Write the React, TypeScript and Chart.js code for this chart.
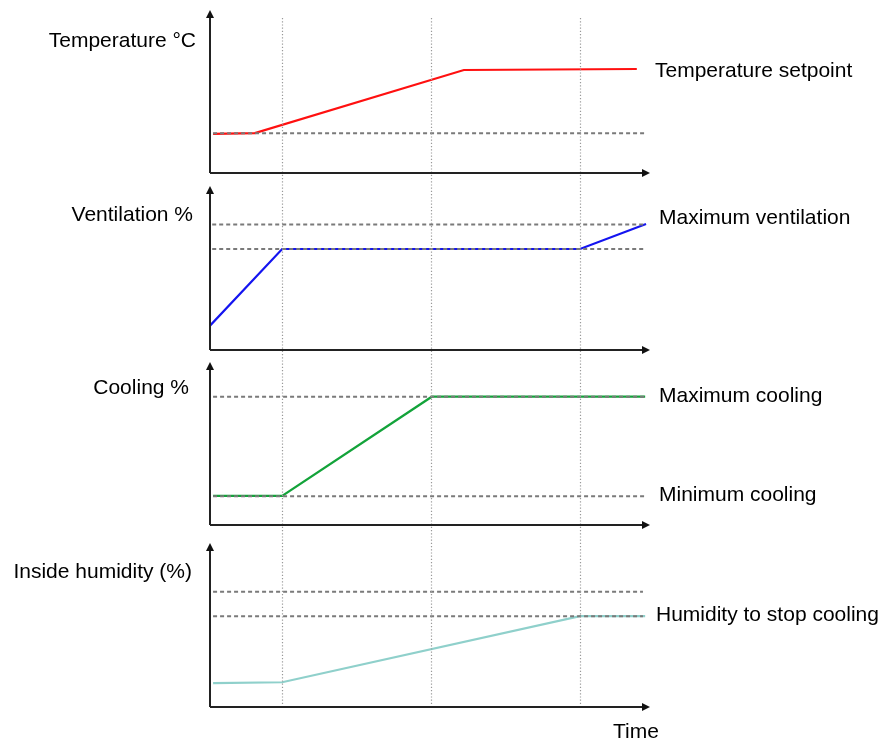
import React, { useEffect, useRef } from "react";
import { Chart, registerables } from "chart.js";

Chart.register(...registerables);

// ---- Data (time axis 0..100, each panel 0..100) ----
const phaseTimes = [16.4, 50.3, 84.1];

// Temperature panel
const tempTimes = [0.7, 10.2, 57.7, 97];
const tempSetpoint = [24, 24.5, 63.2, 63.8];
const tempRefSpan = [0.7, 99.3];
const tempRef = 24.4;

// Ventilation panel
const ventTimes = [0, 16.4, 84.1, 99.1];
const ventValues = [14.8, 61.6, 61.6, 76.8];
const ventRefSpan = [0.5, 98.9];
const ventMax = 76.6;
const ventMin = 61.6;

// Cooling panel
const coolTimes = [0.7, 16.4, 50.4, 98.9];
const coolValues = [17.9, 17.9, 78.7, 78.7];
const coolRefSpan = [0.7, 98.9];
const coolMax = 78.7;
const coolMin = 17.6;

// Humidity panel
const humTimes = [0.7, 16.4, 84.1, 98.9];
const humValues = [14.5, 15.1, 55.4, 55.4];
const humRefSpan = [0.7, 98.4];
const humUpper = 70.3;
const humStop = 55.3;

const leftLabels = ["Temperature °C", "Ventilation %", "Cooling %", "Inside humidity (%)"];
const rightLabels = [
  "Temperature setpoint",
  "Maximum ventilation",
  "Maximum cooling",
  "Minimum cooling",
  "Humidity to stop cooling",
];
const xLabel = "Time";

const panelIds = ["yTemp", "yVent", "yCool", "yHum"];
const FONT = '21px "Liberation Sans", Arial, sans-serif';

function lineSet(times: number[], values: number[], yAxisID: string, color: string) {
  return {
    data: times.map((t, i) => ({ x: t, y: values[i] })),
    xAxisID: "x",
    yAxisID,
    borderColor: color,
    borderWidth: 2.2,
    pointRadius: 0,
    tension: 0,
    fill: false,
    order: 1,
  };
}

function refSet(span: number[], value: number, yAxisID: string) {
  return {
    data: span.map((t) => ({ x: t, y: value })),
    xAxisID: "x",
    yAxisID,
    borderColor: "#7a7a7a",
    borderWidth: 2,
    borderDash: [4, 3],
    pointRadius: 0,
    tension: 0,
    fill: false,
    order: 0,
  };
}

const diagramPlugin = {
  id: "diagram",
  afterDatasetsDraw(chart: any) {
    const ctx = chart.ctx as CanvasRenderingContext2D;
    const area = chart.chartArea;
    const xs = chart.scales.x;
    const L = area.left;
    const R = area.right;

    // dotted phase lines
    ctx.save();
    ctx.strokeStyle = "#999999";
    ctx.lineWidth = 1.2;
    ctx.setLineDash([1.2, 2]);
    phaseTimes.forEach((t) => {
      const px = Math.round(xs.getPixelForValue(t)) + 0.5;
      ctx.beginPath();
      ctx.moveTo(px, area.top + 8);
      ctx.lineTo(px, area.bottom);
      ctx.stroke();
    });
    ctx.restore();

    // axes with arrows
    ctx.save();
    ctx.strokeStyle = "#222";
    ctx.fillStyle = "#111";
    ctx.lineWidth = 2;
    panelIds.forEach((id) => {
      const s = chart.scales[id];
      const top = s.top;
      const bottom = s.bottom;
      ctx.beginPath();
      ctx.moveTo(L, bottom);
      ctx.lineTo(L, top + 6);
      ctx.moveTo(L, bottom);
      ctx.lineTo(R - 6, bottom);
      ctx.stroke();
      ctx.beginPath();
      ctx.moveTo(L, top);
      ctx.lineTo(L - 4, top + 8);
      ctx.lineTo(L + 4, top + 8);
      ctx.closePath();
      ctx.fill();
      ctx.beginPath();
      ctx.moveTo(R, bottom);
      ctx.lineTo(R - 8, bottom - 4);
      ctx.lineTo(R - 8, bottom + 4);
      ctx.closePath();
      ctx.fill();
    });
    ctx.restore();

    // labels
    ctx.save();
    ctx.font = FONT;
    ctx.fillStyle = "#000";
    ctx.textBaseline = "middle";
    const leftOffsets = [
      [-14, 31],
      [-17, 29],
      [-21, 26],
      [-18, 29],
    ];
    ctx.textAlign = "right";
    leftLabels.forEach((txt, i) => {
      const s = chart.scales[panelIds[i]];
      ctx.fillText(txt, L + leftOffsets[i][0], s.top + leftOffsets[i][1]);
    });
    ctx.textAlign = "left";
    const rightAnchors: [string, number, number, number][] = [
      ["yTemp", tempSetpoint[tempSetpoint.length - 1], 5, 2],
      ["yVent", ventMax, 9, -6],
      ["yCool", coolMax, 9, -0.5],
      ["yCool", coolMin, 9, -1.5],
      ["yHum", humStop, 6, -1],
    ];
    rightLabels.forEach((txt, i) => {
      const [id, v, dx, dy] = rightAnchors[i];
      const y = chart.scales[id].getPixelForValue(v);
      ctx.fillText(txt, R + dx, y + dy);
    });
    ctx.fillText(xLabel, R - 37, area.bottom + 25);
    ctx.restore();
  },
};

export default function App() {
  const ref = useRef<HTMLCanvasElement>(null);
  useEffect(() => {
    document.body.style.margin = "0";
    const stackScale = (weight: number, stackWeight: number) => ({
      type: "linear" as const,
      min: 0,
      max: 100,
      display: false,
      position: "left" as const,
      stack: "panels",
      stackWeight,
      weight,
    });
    const chart = new Chart(ref.current!, {
      type: "line",
      data: {
        datasets: [
          refSet(tempRefSpan, tempRef, "yTemp"),
          refSet(ventRefSpan, ventMax, "yVent"),
          refSet(ventRefSpan, ventMin, "yVent"),
          refSet(coolRefSpan, coolMax, "yCool"),
          refSet(coolRefSpan, coolMin, "yCool"),
          refSet(humRefSpan, humUpper, "yHum"),
          refSet(humRefSpan, humStop, "yHum"),
          lineSet(tempTimes, tempSetpoint, "yTemp", "#ff1010"),
          lineSet(ventTimes, ventValues, "yVent", "#1414f0"),
          lineSet(coolTimes, coolValues, "yCool", "#13a33a"),
          lineSet(humTimes, humValues, "yHum", "#8fd0cb"),
        ] as any,
      },
      options: {
        responsive: false,
        animation: false,
        events: [],
        layout: { padding: { left: 210, right: 233, top: 10, bottom: 35 } },
        plugins: { legend: { display: false }, tooltip: { enabled: false } },
        scales: {
          x: { type: "linear", min: 0, max: 100, display: false, position: "bottom" },
          yTemp: stackScale(7, 163),
          gap1: stackScale(6, 13),
          yVent: stackScale(5, 164),
          gap2: stackScale(4, 12),
          yCool: stackScale(3, 163),
          gap3: stackScale(2, 18),
          yHum: stackScale(1, 164),
        } as any,
      },
      plugins: [diagramPlugin],
    });
    return () => chart.destroy();
  }, []);
  return (
    <div style={{ width: 883, height: 742, background: "#fff" }}>
      <canvas ref={ref} width={883} height={742} style={{ display: "block" }} />
    </div>
  );
}
